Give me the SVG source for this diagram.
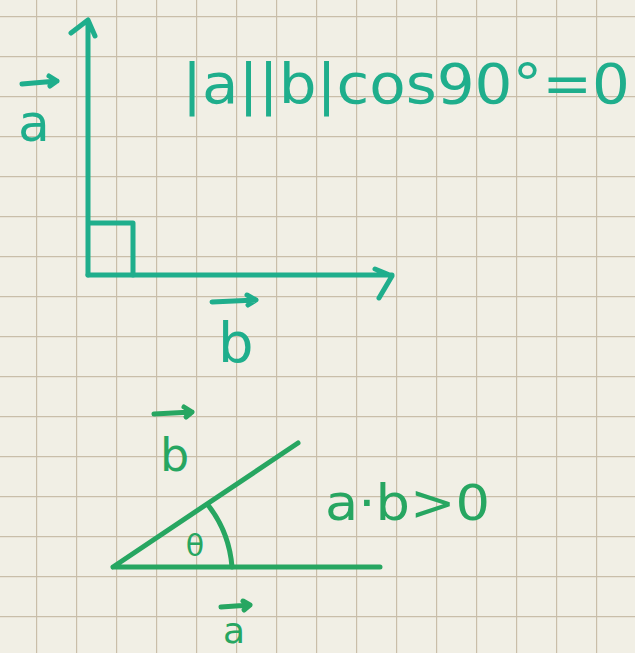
<svg xmlns="http://www.w3.org/2000/svg" width="635" height="653" viewBox="0 0 635 653">
<defs>
<pattern id="grid" x="36" y="16" width="40" height="40" patternUnits="userSpaceOnUse">
<path d="M0 0 V40 M0 0 H40" stroke="#c9bea9" stroke-width="2.4" fill="none"/>
</pattern>
</defs>
<style>
.t{stroke:#1fae8c;stroke-width:5;fill:none;stroke-linecap:round;stroke-linejoin:round}
.g{stroke:#27a661;stroke-width:5;fill:none;stroke-linecap:round;stroke-linejoin:round}
.tt{fill:#1fae8c;font-family:"DejaVu Sans",sans-serif}
.gt{fill:#27a661;font-family:"DejaVu Sans",sans-serif}
</style>
<rect width="635" height="653" fill="#f1efe5"/>
<rect width="635" height="653" fill="url(#grid)"/>
<g id="connectors">
<path class="t" d="M88 275 V20 M71 33 L88 20 L95 36"/>
<path class="t" d="M88 275 H392 M375 269 L392 276 L379 298"/>
<path class="t" d="M90 223 H133 V275"/>
<path class="g" d="M113 567 H380 M113 567 L298 443"/>
<path class="g" d="M208 505 A115 115 0 0 1 232 567"/>
</g>
<g id="label-a-top">
<path class="t" stroke-width="4" d="M22 84 L57 81 M49 76 L57 81 L50 86"/>
<text class="tt" x="18" y="141" font-size="52">a</text>
</g>
<g id="formula">
<text class="tt" x="182" y="103" font-size="56" textLength="448" lengthAdjust="spacingAndGlyphs">|a||b|cos90°=0</text>
</g>
<g id="label-b-top">
<path class="t" stroke-width="4" d="M212 302 L256 300 M247 295 L256 300 L248 305"/>
<text class="tt" x="218" y="362" font-size="56">b</text>
</g>
<g id="label-b-bottom">
<path class="g" stroke-width="4" d="M154 414 L192 412 M184 407 L192 412 L186 417"/>
<text class="gt" x="160" y="471" font-size="46">b</text>
</g>
<g id="theta">
<text class="gt" x="195" y="556" font-size="30" text-anchor="middle">θ</text>
</g>
<g id="dot-product">
<text class="gt" x="325" y="520" font-size="50" textLength="165" lengthAdjust="spacingAndGlyphs">a·b&gt;0</text>
</g>
<g id="label-a-bottom">
<path class="g" stroke-width="4" d="M221 607 L250 605 M243 601 L250 605 L244 610"/>
<text class="gt" x="223" y="643" font-size="36">a</text>
</g>
</svg>
